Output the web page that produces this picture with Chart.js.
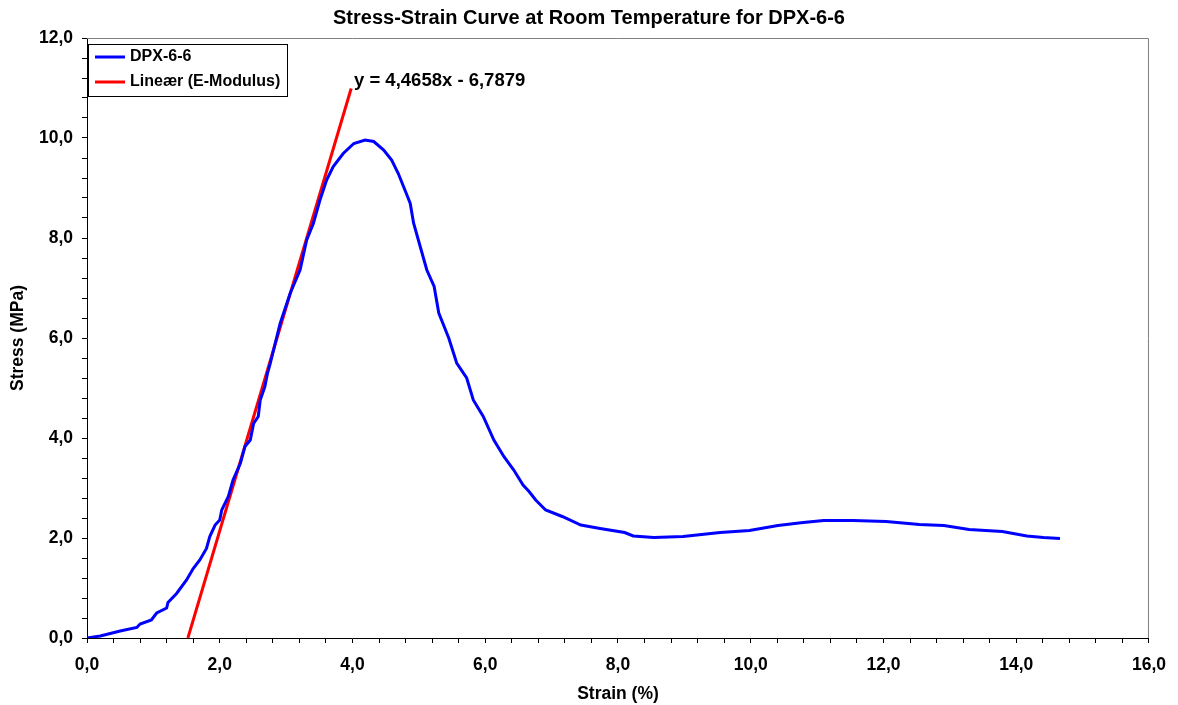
<!DOCTYPE html>
<html>
<head>
<meta charset="utf-8">
<title>Stress-Strain Curve</title>
<script src="https://cdn.jsdelivr.net/npm/chart.js@4.4.1/dist/chart.umd.min.js"></script>
<style>
  html, body { margin: 0; padding: 0; background: #fff; }
  #wrap { width: 1178px; height: 705px; }
</style>
</head>
<body>
<div id="wrap"><canvas id="ssChart" width="1178" height="705"></canvas></div>
<script>
const strain = [0, 0.2, 0.5, 0.75, 0.8, 0.97, 1.05, 1.2, 1.22, 1.35, 1.5, 1.6, 1.7, 1.8, 1.85, 1.93, 2.0, 2.03,
  2.13, 2.2, 2.31, 2.38, 2.46, 2.51, 2.58, 2.61, 2.68, 2.72, 2.76, 2.91, 3.06, 3.21, 3.31, 3.41, 3.51, 3.61,
  3.71, 3.86, 4.02, 4.19, 4.32, 4.47, 4.59, 4.69, 4.82, 4.87, 4.92, 5.02, 5.12, 5.23, 5.3, 5.45, 5.57, 5.72,
  5.82, 5.97, 6.13, 6.28, 6.43, 6.57, 6.66, 6.76, 6.91, 7.16, 7.44, 7.73, 8.1, 8.23, 8.54, 8.98, 9.54, 9.98,
  10.41, 10.79, 11.1, 11.54, 12.04, 12.54, 12.91, 13.29, 13.79, 14.16, 14.41, 14.66];
const stress = [0, 0.04, 0.14, 0.21, 0.28, 0.36, 0.5, 0.6, 0.71, 0.89, 1.16, 1.39, 1.56, 1.79, 2.03, 2.26, 2.36, 2.56,
  2.83, 3.16, 3.49, 3.83, 3.96, 4.29, 4.43, 4.76, 5.03, 5.3, 5.49, 6.29, 6.89, 7.36, 7.96, 8.29, 8.76, 9.16,
  9.43, 9.69, 9.89, 9.96, 9.93, 9.76, 9.56, 9.29, 8.86, 8.69, 8.3, 7.83, 7.36, 7.03, 6.5, 6.0, 5.5, 5.2,
  4.76, 4.43, 3.96, 3.63, 3.36, 3.06, 2.93, 2.76, 2.56, 2.43, 2.26, 2.19, 2.11, 2.04, 2.01, 2.03, 2.11, 2.15,
  2.25, 2.31, 2.35, 2.35, 2.33, 2.27, 2.25, 2.17, 2.13, 2.04, 2.01, 1.99];

// linear fit (E-modulus) end points
const fitStrain = [1.52, 3.98];
const fitStress = [0, 10.99];
const fitLabel = 'y = 4,4658x - 6,7879';

const xTicks = [0, 2, 4, 6, 8, 10, 12, 14, 16];
const yTicks = [0, 2, 4, 6, 8, 10, 12];

const FONT = "'Liberation Sans', Arial, sans-serif";

function toPoints(xs, ys) {
    return xs.map(function (x, i) { return { x: x, y: ys[i] }; });
}

function majorLabel(list) {
    return function (value) {
        for (let i = 0; i < list.length; i++) {
            if (Math.abs(value - list[i]) < 1e-6) return list[i].toFixed(1).replace('.', ',');
        }
        return '';
    };
}

// plot frame, legend box and fit equation
const extras = {
    id: 'extras',
    beforeDatasetsDraw(chart) {
        const a = chart.chartArea;
        const ctx = chart.ctx;
        ctx.save();
        ctx.strokeStyle = '#808080';
        ctx.lineWidth = 1;
        ctx.beginPath();
        ctx.moveTo(a.left, a.top + 0.5);
        ctx.lineTo(a.right - 0.5, a.top + 0.5);
        ctx.lineTo(a.right - 0.5, a.bottom);
        ctx.stroke();
        ctx.restore();
    },
    afterDatasetsDraw(chart) {
        const ctx = chart.ctx;
        ctx.save();
        // legend
        ctx.fillStyle = '#fff';
        ctx.fillRect(88, 44, 200, 53);
        ctx.strokeStyle = '#000';
        ctx.lineWidth = 1;
        ctx.strokeRect(88.5, 44.5, 199, 52);
        ctx.font = 'bold 16px ' + FONT;
        ctx.textBaseline = 'middle';
        ctx.textAlign = 'left';
        const rows = [57, 82];
        chart.data.datasets.forEach(function (ds, i) {
            ctx.strokeStyle = ds.borderColor;
            ctx.lineWidth = 3;
            ctx.beginPath();
            ctx.moveTo(95, rows[i]);
            ctx.lineTo(125, rows[i]);
            ctx.stroke();
            ctx.fillStyle = '#000';
            ctx.fillText(ds.label, 130, rows[i]);
        });
        // equation of the fit
        ctx.font = 'bold 18.5px ' + FONT;
        ctx.fillText(fitLabel, 354, 81);
        ctx.restore();
    }
};

window.onload = function () {
    const ctx = document.getElementById('ssChart').getContext('2d');
    new Chart(ctx, {
        type: 'scatter',
        data: {
            datasets: [{
                label: 'DPX-6-6',
                data: toPoints(strain, stress),
                showLine: true,
                borderColor: '#0000FF',
                borderWidth: 3,
                pointRadius: 0,
                tension: 0
            }, {
                label: 'Lineær (E-Modulus)',
                data: toPoints(fitStrain, fitStress),
                showLine: true,
                borderColor: '#FF0000',
                borderWidth: 3,
                pointRadius: 0,
                tension: 0
            }]
        },
        options: {
            responsive: false,
            animation: false,
            devicePixelRatio: 1,
            layout: { padding: 0 },
            plugins: {
                legend: { display: false },
                tooltip: { enabled: false },
                title: {
                    display: true,
                    text: 'Stress-Strain Curve at Room Temperature for DPX-6-6',
                    color: '#000',
                    font: { family: FONT, size: 20, weight: 'bold' },
                    padding: { top: 6, bottom: 8 }
                }
            },
            scales: {
                x: {
                    type: 'linear',
                    min: xTicks[0],
                    max: xTicks[xTicks.length - 1],
                    afterFit: function (scale) { scale.height = 67; },
                    ticks: {
                        stepSize: 0.4,
                        autoSkip: false,
                        maxRotation: 0,
                        padding: 12,
                        color: '#000',
                        font: { family: FONT, size: 17.5, weight: 'bold' },
                        callback: majorLabel(xTicks)
                    },
                    grid: { drawOnChartArea: false, drawTicks: true, tickLength: 5, color: '#000' },
                    border: { color: '#000', width: 1 },
                    title: {
                        display: true,
                        text: 'Strain (%)',
                        color: '#000',
                        font: { family: FONT, size: 17.5, weight: 'bold' },
                        padding: { top: 0, bottom: 0 }
                    }
                },
                y: {
                    type: 'linear',
                    min: yTicks[0],
                    max: yTicks[yTicks.length - 1],
                    afterFit: function (scale) { scale.width = 87; },
                    ticks: {
                        stepSize: 0.4,
                        autoSkip: false,
                        padding: 9,
                        color: '#000',
                        font: { family: FONT, size: 17.5, weight: 'bold' },
                        callback: majorLabel(yTicks)
                    },
                    grid: { drawOnChartArea: false, drawTicks: true, tickLength: 5, color: '#000' },
                    border: { color: '#000', width: 1 },
                    title: {
                        display: true,
                        text: 'Stress (MPa)',
                        color: '#000',
                        font: { family: FONT, size: 17.5, weight: 'bold' },
                        padding: { top: 8, bottom: 0 }
                    }
                },
                // empty right-hand strip so the title centres on the whole chart
                yRight: {
                    type: 'linear',
                    position: 'right',
                    min: yTicks[0],
                    max: yTicks[yTicks.length - 1],
                    afterFit: function (scale) { scale.width = 29; },
                    ticks: { display: false },
                    grid: { display: false },
                    border: { display: false }
                }
            }
        },
        plugins: [extras]
    });
};
</script>
</body>
</html>
